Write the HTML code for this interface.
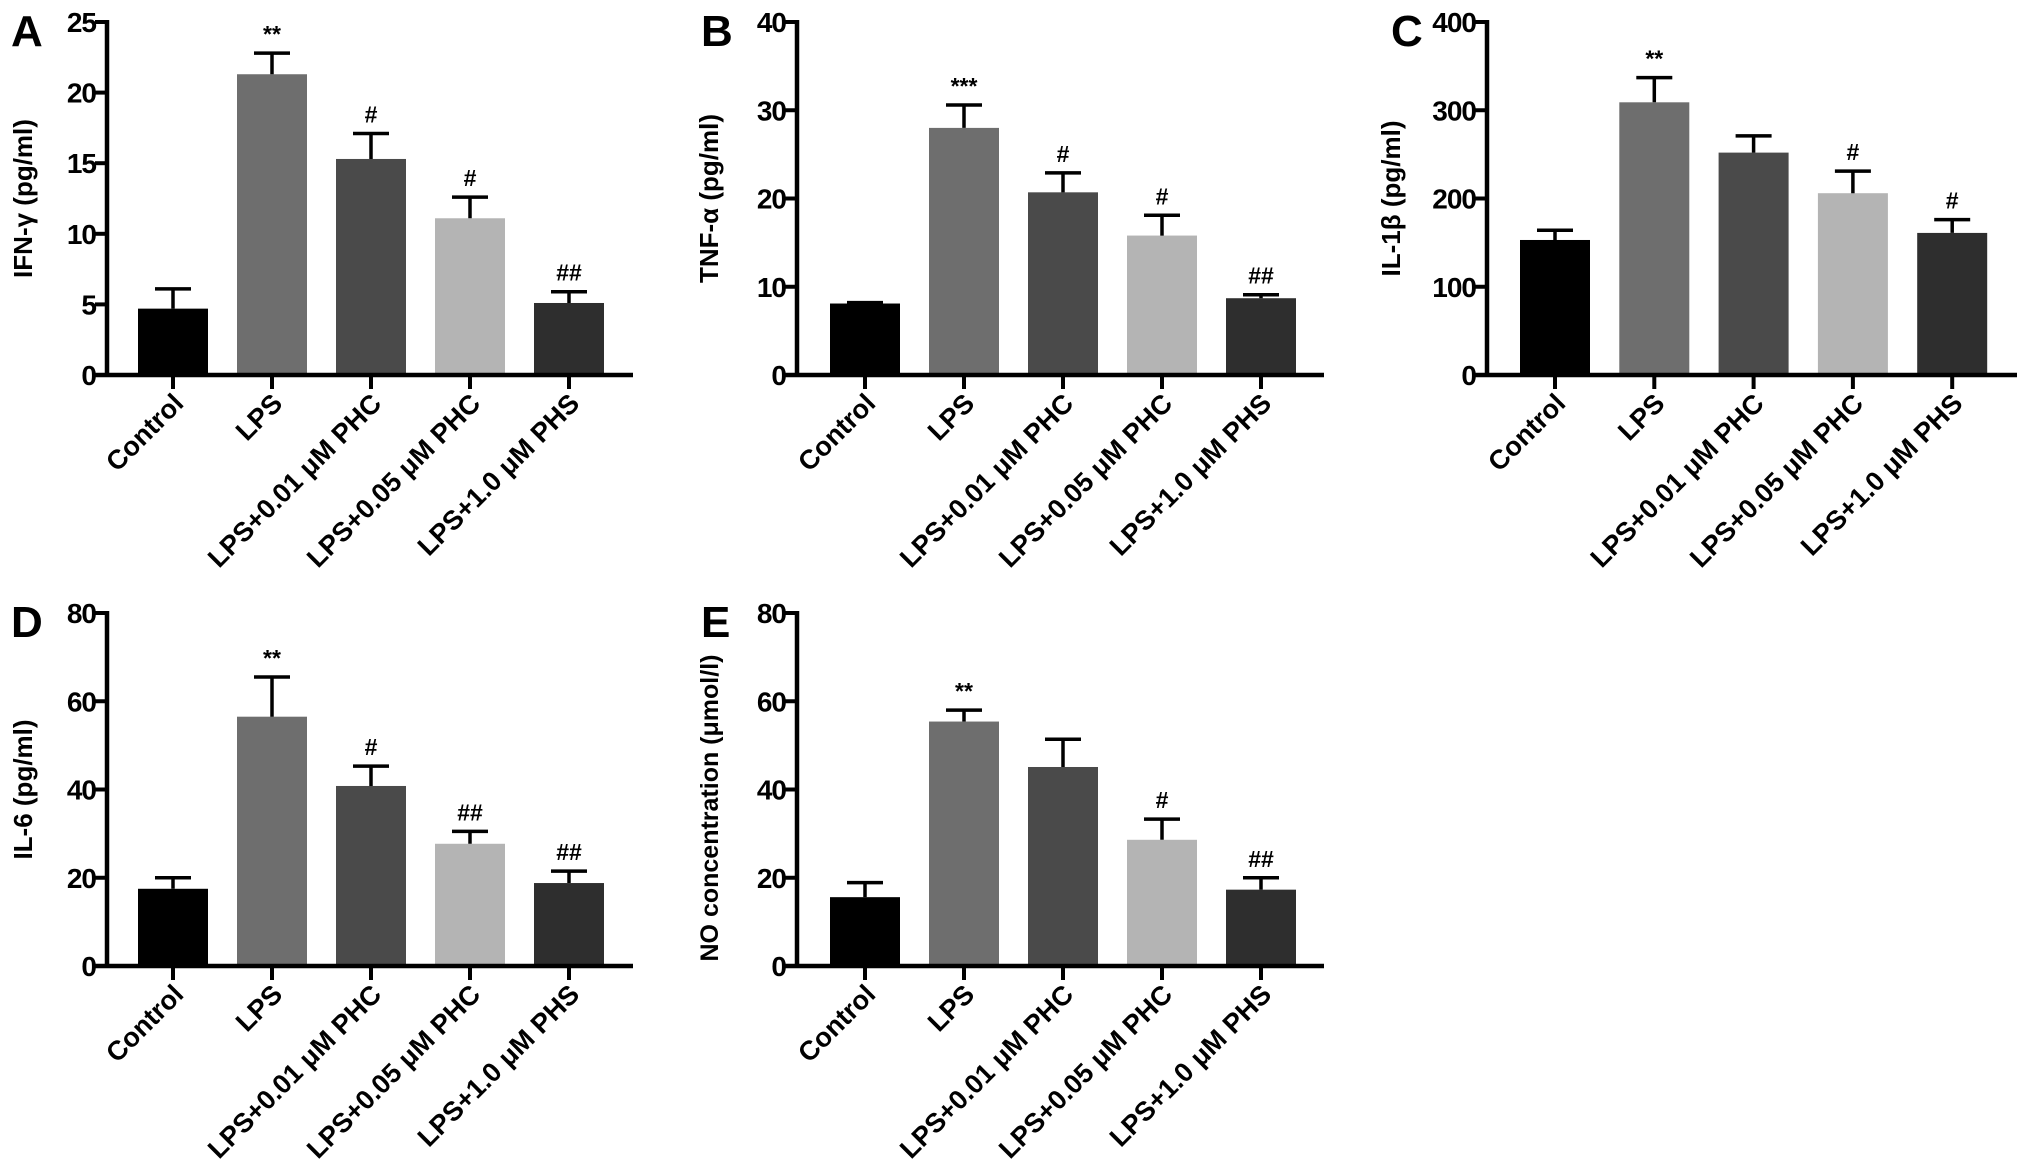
<!DOCTYPE html>
<html><head><meta charset="utf-8"><style>
html,body{margin:0;padding:0;background:#fff;}
svg{display:block;font-family:"Liberation Sans",Arial,sans-serif;font-weight:bold;}
</style></head><body>
<svg id="fig" width="2031" height="1173" viewBox="0 0 2031 1173" xmlns="http://www.w3.org/2000/svg"></svg>
<script>
const categories = ["Control","LPS","LPS+0.01 μM PHC","LPS+0.05 μM PHC","LPS+1.0 μM PHS"];
const colors = ["#000000","#6e6e6e","#4a4a4a","#b4b4b4","#2e2e2e"];
const valsA = [4.7,21.3,15.3,11.1,5.1];
const errA  = [6.1,22.8,17.1,12.6,5.9];
const sigA  = ["","**","#","#","##"];
const ticksA = [0,5,10,15,20,25];
const valsB = [8.1,28.0,20.7,15.8,8.7];
const errB  = [8.2,30.6,22.9,18.1,9.1];
const sigB  = ["","***","#","#","##"];
const ticksB = [0,10,20,30,40];
const valsC = [153,309,252,206,161];
const errC  = [164,337,271,231,176];
const sigC  = ["","**","","#","#"];
const ticksC = [0,100,200,300,400];
const valsD = [17.5,56.5,40.8,27.7,18.8];
const errD  = [20.0,65.5,45.3,30.5,21.5];
const sigD  = ["","**","#","##","##"];
const ticksD = [0,20,40,60,80];
const valsE = [15.6,55.4,45.1,28.6,17.3];
const errE  = [18.9,58.0,51.4,33.3,20.0];
const sigE  = ["","**","","#","##"];
const ticksE = [0,20,40,60,80];

const NS="http://www.w3.org/2000/svg";
const svg=document.getElementById('fig');
function mk(tag,attrs,parent){const e=document.createElementNS(NS,tag);for(const k in attrs)e.setAttribute(k,attrs[k]);(parent||svg).appendChild(e);return e;}

function panel(p){
  const g=mk('g',{});
  
  
  const max=p.ticks[p.ticks.length-1];
  const y=v=>p.y0-(v/max)*(p.y0-p.yTop);
  const x=i=>p.c0+i*p.step;
  const bw=70;
  const L=mk('text',{x:p.ax-96,y:p.yTop+24,'font-size':44},g);L.textContent=p.letter;
  
  
  p.vals.forEach((v,i)=>{
    const r=mk('rect',{x:x(i)-bw/2,y:y(v),width:bw,height:p.y0-y(v),fill:colors[i]},g);
    
    
    const e=p.err[i];
    const eb=mk('path',{d:`M${x(i)} ${y(v)} V${y(e)} M${x(i)-18} ${y(e)} H${x(i)+18}`,stroke:'#000','stroke-width':3.5,fill:'none'},g);
    
    
    if(p.sig[i]){
      const s=mk('text',{x:x(i),y:y(e)-11,'text-anchor':'middle','font-size':23},g);s.textContent=p.sig[i];
      
      
    }
    const tk=mk('line',{x1:x(i),x2:x(i),y1:p.y0,y2:p.y0+14,stroke:'#000','stroke-width':4},g);
    
    
    const lx=x(i)+12, ly=p.y0+30;
    const t=mk('text',{x:lx,y:ly,'text-anchor':'end','font-size':27,transform:`rotate(-45 ${lx} ${ly})`},g);t.textContent=categories[i];
    
    
  });
  const ya=mk('line',{x1:p.ax,x2:p.ax,y1:p.yTop-2,y2:p.y0+2,stroke:'#000','stroke-width':4.5},g);
  
  
  const xa=mk('line',{x1:p.ax-12,x2:p.xEnd,y1:p.y0,y2:p.y0,stroke:'#000','stroke-width':4.5},g);
  
  
  p.ticks.forEach(t=>{
    const l=mk('line',{x1:p.ax-12,x2:p.ax,y1:y(t),y2:y(t),stroke:'#000','stroke-width':4},g);
    
    
    const tx=mk('text',{x:p.ax-11,y:y(t)+10,'text-anchor':'end','font-size':28,'letter-spacing':-1},g);tx.textContent=t;
    
    
  });
  const my=p.titleY||(p.yTop+p.y0)/2, tx=p.titleX;
  const tt=mk('text',{x:tx,y:my,'text-anchor':'middle','font-size':p.titleSize||26,transform:`rotate(-90 ${tx} ${my})`},g);tt.textContent=p.title;
  
  
}
panel({letter:'A',title:'IFN-γ (pg/ml)',vals:valsA,err:errA,sig:sigA,ticks:ticksA,ax:107,yTop:22,y0:375,xEnd:633,c0:173,step:99,titleX:32});
panel({letter:'B',title:'TNF-α (pg/ml)',vals:valsB,err:errB,sig:sigB,ticks:ticksB,ax:797,yTop:22,y0:375,xEnd:1324,c0:865,step:99,titleX:718});
panel({letter:'C',title:'IL-1β (pg/ml)',vals:valsC,err:errC,sig:sigC,ticks:ticksC,ax:1487,yTop:22,y0:375,xEnd:2017,c0:1555,step:99.3,titleX:1400});
panel({letter:'D',title:'IL-6 (pg/ml)',vals:valsD,err:errD,sig:sigD,ticks:ticksD,ax:107,yTop:613,y0:966,xEnd:633,c0:173,step:99,titleX:32});
panel({letter:'E',title:'NO concentration (μmol/l)',vals:valsE,err:errE,sig:sigE,ticks:ticksE,ax:797,yTop:613,y0:966,xEnd:1324,c0:865,step:99,titleX:718,titleY:808,titleSize:25});
</script>
</body></html>
